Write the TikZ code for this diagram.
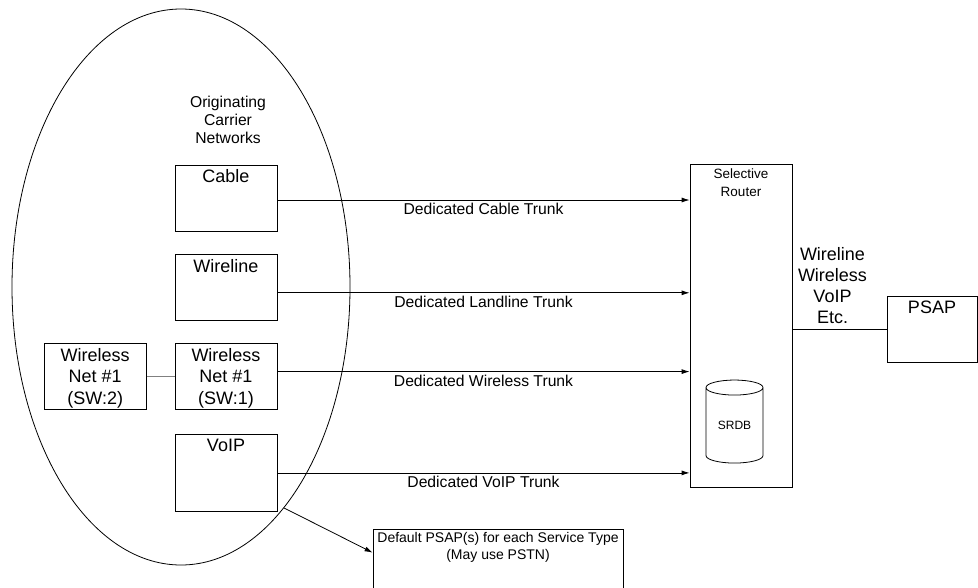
\documentclass[tikz,border=0pt]{standalone}
\usepackage{fontspec}
\setmainfont{Liberation Sans}
\usepackage{tikz}
\usetikzlibrary{positioning, arrows.meta, shapes.geometric, calc}

\begin{document}
\begin{tikzpicture}[
    x=1pt, y=-1pt,
    node distance=22pt and 28pt,
    every node/.style={font=\fontsize{15.7}{18}\selectfont},
    netbox/.style={draw, minimum width=102pt, minimum height=66pt, inner sep=0pt,
      label={[anchor=north, inner sep=4.5pt, align=center, font=\fontsize{18}{21.5}\selectfont]north:{#1}}},
    router/.style={draw, minimum width=102pt, minimum height=323pt, inner sep=0pt,
      label={[anchor=north, inner sep=5pt, align=center, font=\fontsize{13.5}{17.5}\selectfont]north:{#1}}},
    dbase/.style={draw, cylinder, shape border rotate=90, aspect=0.45, minimum width=57pt, minimum height=83pt, inner sep=0pt, font=\fontsize{12}{14}\selectfont},
    arrow/.style={-{Latex[length=8pt, width=5pt]}},
    trunk/.style={midway, below, inner sep=3pt},
    line width=0.8pt,
  ]
  \useasboundingbox (0,0) rectangle (978,587);

  % --- Originating networks ---
  \node[draw, ellipse, minimum width=338pt, minimum height=556pt, inner sep=0pt] (orig) at (181,287) {};
  \node[align=center] (origtxt) at (228,120) {Originating\\Carrier\\Networks};

  \node[netbox=Cable] (cable) at (226,198) {};
  \node[netbox=Wireline, below=23pt of cable] (wireline) {};
  \node[netbox={Wireless\\Net \#1\\(SW:1)}, below=22pt of wireline] (sw1) {};
  \node[netbox={Wireless\\Net \#1\\(SW:2)}, left=28pt of sw1] (sw2) {};
  \node[netbox=VoIP, minimum height=77pt, below=24pt of sw1] (voip) {};

  % --- Selective Router ---
  \node[router={Selective\\Router}] (sr) at (741,325.5) {};
  \node[dbase] (srdb) at (734.5,425.5) {SRDB};

  % --- PSAPs ---
  \node[netbox=PSAP, minimum width=90pt] (psap) at (932,329) {};
  \node[draw, minimum width=250pt, minimum height=66pt, inner sep=0pt,
    label={[anchor=north, inner sep=3pt, align=center, font=\fontsize{14}{17}\selectfont]north:{Default PSAP(s) for each Service Type\\(May use PSTN)}}] (dflt) at (498,562) {};

  % --- Trunks ---
  \draw[arrow] ([yshift=-2pt]cable.east) -- ([yshift=-2pt]cable.east -| sr.west) node[trunk] {Dedicated Cable Trunk};
  \draw[arrow] ([yshift=-5pt]wireline.east) -- ([yshift=-5pt]wireline.east -| sr.west) node[trunk] {Dedicated Landline Trunk};
  \draw[arrow] ([yshift=5pt]sw1.east) -- ([yshift=5pt]sw1.east -| sr.west) node[trunk] {Dedicated Wireless Trunk};
  \draw[arrow] (voip.east) -- (voip.east -| sr.west) node[trunk] {Dedicated VoIP Trunk};

  \draw[gray] (sw2.east) -- (sw1.west);
  \draw[arrow] (orig.-65) -- ([yshift=-24pt]dflt.north west);

  \draw (psap.west) -- (psap.west -| sr.east)
    node[midway, above, xshift=-7pt, align=center, font=\fontsize{18}{21}\selectfont, inner sep=5pt] {Wireline\\Wireless\\VoIP\\Etc.};

\end{tikzpicture}
\end{document}
